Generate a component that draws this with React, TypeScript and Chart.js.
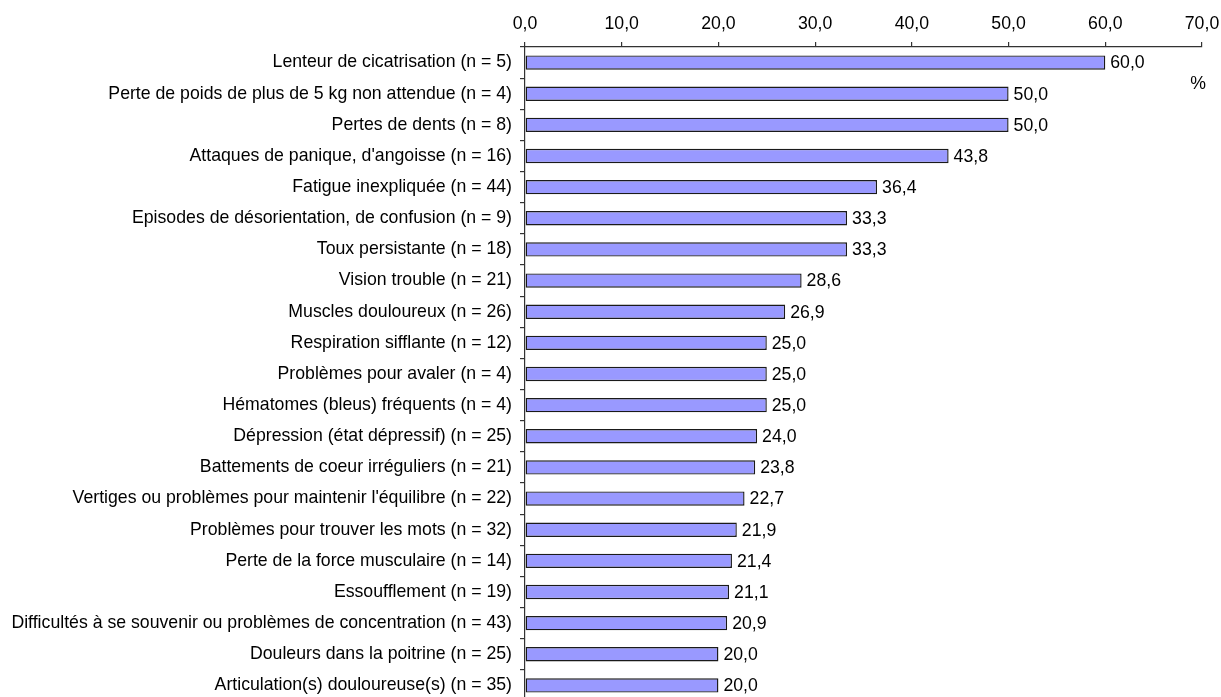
import React, { useEffect, useRef } from "react";
import { Chart, registerables } from "chart.js";

Chart.register(...registerables);

const categories: string[] = [
  "Lenteur de cicatrisation (n = 5)",
  "Perte de poids de plus de 5 kg non attendue (n = 4)",
  "Pertes de dents (n = 8)",
  "Attaques de panique, d'angoisse (n = 16)",
  "Fatigue inexpliquée (n = 44)",
  "Episodes de désorientation, de confusion (n = 9)",
  "Toux persistante (n = 18)",
  "Vision trouble (n = 21)",
  "Muscles douloureux (n = 26)",
  "Respiration sifflante (n = 12)",
  "Problèmes pour avaler (n = 4)",
  "Hématomes (bleus) fréquents (n = 4)",
  "Dépression (état dépressif) (n = 25)",
  "Battements de coeur irréguliers (n = 21)",
  "Vertiges ou problèmes pour maintenir l'équilibre (n = 22)",
  "Problèmes pour trouver les mots (n = 32)",
  "Perte de la force musculaire (n = 14)",
  "Essoufflement (n = 19)",
  "Difficultés à se souvenir ou problèmes de concentration (n = 43)",
  "Douleurs dans la poitrine (n = 25)",
  "Articulation(s) douloureuse(s) (n = 35)",
];

const values: number[] = [
  60.0, 50.0, 50.0, 43.8, 36.4, 33.3, 33.3, 28.6, 26.9, 25.0, 25.0, 25.0, 24.0,
  23.8, 22.7, 21.9, 21.4, 21.1, 20.9, 20.0, 20.0,
];

const xTicks: number[] = [0, 10, 20, 30, 40, 50, 60, 70];
const unitLabel = "%";

const FONT = "'Liberation Sans', Arial, sans-serif";
const FS = 17.7;
const fmt = (v: number) => v.toFixed(1).replace(".", ",");

export default function App() {
  const ref = useRef<HTMLCanvasElement | null>(null);

  useEffect(() => {
    if (!ref.current) return;
    const valueLabels = {
      id: "valueLabels",
      afterDatasetsDraw(chart: any) {
        const ctx = chart.ctx;
        const meta = chart.getDatasetMeta(0);
        ctx.save();
        ctx.font = `${FS}px ${FONT}`;
        ctx.fillStyle = "#000";
        ctx.textAlign = "left";
        ctx.textBaseline = "middle";
        meta.data.forEach((bar: any, i: number) => {
          ctx.fillText(fmt(values[i]), bar.x + 5, bar.y + 1);
        });
        const xs = chart.scales.x;
        ctx.textAlign = "center";
        ctx.fillText(unitLabel, xs.right - 4, chart.chartArea.top + 37);
        ctx.restore();
      },
    };

    const chart = new Chart(ref.current, {
      type: "bar",
      data: {
        labels: categories,
        datasets: [
          {
            data: values,
            backgroundColor: "#9999FF",
            borderColor: "#1a1a1a",
            borderWidth: 1.4,
            borderSkipped: false,
            categoryPercentage: 1,
            barPercentage: 0.46,
          },
        ],
      },
      options: {
        indexAxis: "y",
        responsive: false,
        animation: false,
        devicePixelRatio: 1,
        layout: { padding: { left: 0, right: 19, top: 0, bottom: 4 } },
        plugins: {
          legend: { display: false },
          tooltip: { enabled: false },
        },
        scales: {
          x: {
            position: "top",
            min: 0,
            max: 70,
            afterBuildTicks: (s: any) => {
              s.ticks = xTicks.map((v) => ({ value: v }));
            },
            afterFit: (s: any) => {
              s.height = 47;
              s.paddingLeft = 0;
              s.paddingRight = 0;
            },
            ticks: {
              color: "#000",
              font: { family: FONT, size: FS },
              padding: 7,
              maxRotation: 0,
              callback: (v: any) => fmt(Number(v)),
            },
            grid: {
              drawOnChartArea: false,
              drawTicks: true,
              tickLength: 5,
              color: "#333",
              lineWidth: 1.2,
            },
            border: { display: true, color: "#333", width: 1.2 },
          },
          y: {
            afterFit: (s: any) => {
              s.width = 525;
              s.paddingTop = 0;
              s.paddingBottom = 0;
            },
            ticks: {
              color: "#000",
              font: { family: FONT, size: FS },
              padding: 8,
              autoSkip: false,
            },
            grid: {
              drawOnChartArea: false,
              drawTicks: true,
              tickLength: 5,
              color: "#333",
              lineWidth: 1.2,
              offset: true,
            },
            border: { display: true, color: "#333", width: 1.2 },
          },
        },
      },
      plugins: [valueLabels],
    });
    return () => chart.destroy();
  }, []);

  return (
    <div
      style={{
        position: "fixed",
        top: 0,
        left: 0,
        width: 1221,
        height: 697,
        overflow: "hidden",
        background: "#fff",
      }}
    >
      <canvas
        ref={ref}
        width={1221}
        height={705}
        style={{ display: "block", width: 1221, height: 705 }}
      />
    </div>
  );
}
